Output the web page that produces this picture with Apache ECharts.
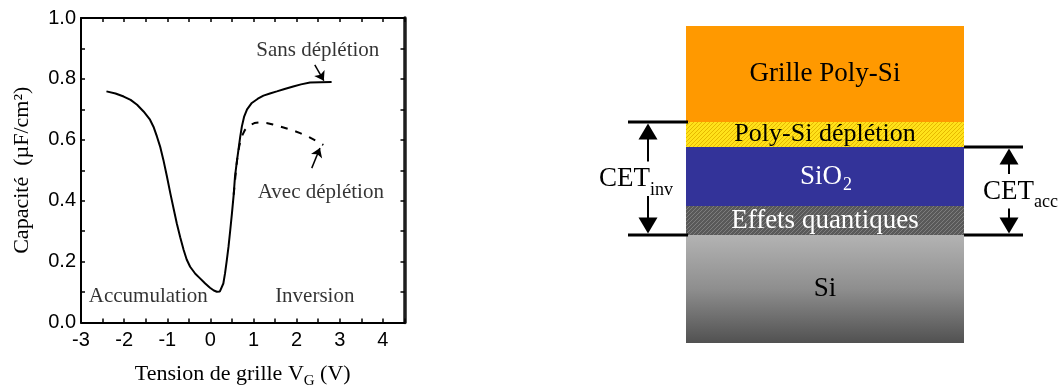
<!DOCTYPE html>
<html>
<head>
<meta charset="utf-8">
<script src="https://cdn.jsdelivr.net/npm/echarts@6/dist/echarts.min.js"></script>
<style>
  html, body { margin: 0; padding: 0; background: #fff; }
  #c { width: 1061px; height: 388px; }
</style>
</head>
<body>
<div id="c"></div>
<script>
// ---- C-V characteristic: gate voltage (V) vs capacitance (µF/cm²) ----
const sansDepletion = [
  [-2.41, 0.759], [-2.20, 0.752], [-2.01, 0.742], [-1.85, 0.731], [-1.70, 0.715],
  [-1.55, 0.693], [-1.40, 0.666], [-1.32, 0.643], [-1.24, 0.611], [-1.16, 0.575],
  [-1.09, 0.534], [-1.01, 0.481], [-0.93, 0.425], [-0.85, 0.372], [-0.78, 0.326],
  [-0.70, 0.280], [-0.62, 0.238], [-0.55, 0.207], [-0.47, 0.183], [-0.35, 0.160],
  [-0.24, 0.145], [-0.12, 0.128], [-0.01, 0.114], [0.08, 0.105], [0.15, 0.101],
  [0.22, 0.102], [0.26, 0.107], [0.30, 0.128], [0.34, 0.162], [0.38, 0.204],
  [0.42, 0.249], [0.46, 0.303], [0.50, 0.359], [0.54, 0.420], [0.57, 0.479],
  [0.61, 0.525], [0.65, 0.567], [0.69, 0.609], [0.73, 0.644], [0.78, 0.675],
  [0.85, 0.700], [0.96, 0.721], [1.10, 0.735], [1.23, 0.745], [1.38, 0.752],
  [1.54, 0.759], [1.72, 0.767], [1.92, 0.775], [2.10, 0.782], [2.31, 0.788],
  [2.55, 0.789], [2.81, 0.790]
];
const avecDepletion = [
  [0.54, 0.420], [0.58, 0.480], [0.62, 0.535], [0.67, 0.580], [0.73, 0.612],
  [0.80, 0.632], [0.90, 0.647], [1.02, 0.655], [1.15, 0.657], [1.30, 0.655],
  [1.45, 0.650], [1.61, 0.644], [1.85, 0.634], [2.08, 0.622], [2.30, 0.608],
  [2.45, 0.597], [2.62, 0.583]
];
const voltageTicks = [-3, -2, -1, 0, 1, 2, 3, 4];
const capacityTicks = ['0.0', '0.2', '0.4', '0.6', '0.8', '1.0'];
const annotationTexts = ['Sans déplétion', 'Avec déplétion', 'Accumulation', 'Inversion'];

// ---- gate stack, listed from the substrate upwards (relative thickness) ----
const layerNames = ['Si', 'Effets quantiques', 'SiO', 'Poly-Si déplétion', 'Grille Poly-Si'];
const layerSubscripts = ['', '', '2', '', ''];
const layerThickness = [108, 29, 59, 25, 96];
// equivalent thickness brackets: lowest and highest layer covered
const cetNames = ['inv', 'acc'];
const cetBottomLayer = [1, 1];
const cetTopLayer = [3, 2];

// cumulative base of each layer
const layerBase = [];
layerThickness.reduce((acc, t, i) => { layerBase[i] = acc; return acc + t; }, 0);
const stackTotal = layerThickness.reduce((a, b) => a + b, 0);

const SERIF = '"Liberation Serif", "Times New Roman", serif';
const SANS = '"Liberation Sans", Arial, sans-serif';

function hatch(bg, fg) {
  const c = document.createElement('canvas');
  c.width = 4; c.height = 4;
  const g = c.getContext('2d');
  g.fillStyle = bg; g.fillRect(0, 0, 4, 4);
  g.fillStyle = fg;
  for (let k = 0; k < 4; k++) g.fillRect(k, 3 - k, 1, 1);
  return { image: c, repeat: 'repeat' };
}

const layerLook = [
  { fill: new echarts.graphic.LinearGradient(0, 0, 0, 1, [
      { offset: 0, color: '#b3b3b3' }, { offset: 0.5, color: '#8e8e8e' }, { offset: 1, color: '#515151' }
    ]), ink: '#000', size: 27 },
  { fill: hatch('#595959', '#7d7d7d'), ink: '#fff', size: 27 },
  { fill: '#333399', ink: '#fff', size: 27 },
  { fill: hatch('#ffe21a', '#e6b800'), ink: '#000', size: 26 },
  { fill: '#ff9900', ink: '#000', size: 27 }
];

const annotationPos = [[2.49, 0.892], [2.56, 0.426], [-1.44, 0.085], [2.42, 0.085]];

const frameAxis = (width, color) => ({
  show: true, onZero: false, lineStyle: { color: color, width: width }
});
const innerTick = { show: true, inside: true, length: 4, lineStyle: { color: '#000', width: 1.5 } };

const chart = echarts.init(document.getElementById('c'));
chart.setOption({
  animation: false,
  backgroundColor: '#fff',
  grid: [
    { left: 81, right: 656.5, top: 18, bottom: 65.5, containLabel: false, outerBoundsMode: 'none' },
    { left: 686, width: 278, top: 26, height: 317, containLabel: false, outerBoundsMode: 'none' }
  ],
  xAxis: [
    {
      gridIndex: 0, type: 'value', position: 'bottom', min: -3, max: 4.5, interval: 0.5,
      axisLine: frameAxis(2, '#000'), axisTick: innerTick, splitLine: { show: false },
      axisLabel: {
        margin: 8, color: '#000', fontFamily: SANS, fontSize: 20,
        formatter: v => {
          const t = voltageTicks.find(t => Math.abs(t - v) < 1e-6);
          return t === undefined ? '' : String(t);
        }
      },
      name: '{m|Tension de grille V}{s|G}{m| (V)}',
      nameLocation: 'middle', nameGap: 41,
      nameTextStyle: {
        color: '#000',
        rich: {
          m: { fontFamily: SERIF, fontSize: 22, lineHeight: 22, verticalAlign: 'top', color: '#000' },
          s: { fontFamily: SERIF, fontSize: 15, lineHeight: 15, verticalAlign: 'top', padding: [10, 0, 0, 0], color: '#000' }
        }
      }
    },
    {
      gridIndex: 0, type: 'value', position: 'top', min: -3, max: 4.5, interval: 0.5,
      axisLine: frameAxis(2, '#000'), axisTick: innerTick,
      axisLabel: { show: false }, splitLine: { show: false }
    },
    { gridIndex: 1, type: 'value', min: 0, max: 1, show: false }
  ],
  yAxis: [
    {
      gridIndex: 0, type: 'value', position: 'left', min: 0, max: 1, interval: 0.1,
      axisLine: frameAxis(2, '#000'), axisTick: innerTick, splitLine: { show: false },
      axisLabel: {
        margin: 5, color: '#000', fontFamily: SANS, fontSize: 20,
        formatter: v => {
          const s = v.toFixed(1);
          return capacityTicks.includes(s) ? s : '';
        }
      },
      name: 'Capacité  (µF/cm²)', nameLocation: 'middle', nameGap: 48,
      nameTextStyle: { color: '#000', fontFamily: SERIF, fontSize: 22, lineHeight: 22 }
    },
    {
      gridIndex: 0, type: 'value', position: 'right', min: 0, max: 1, interval: 0.1,
      axisLine: frameAxis(3.5, '#1e1e1e'), axisTick: innerTick,
      axisLabel: { show: false }, splitLine: { show: false }
    },
    { gridIndex: 1, type: 'value', min: 0, max: stackTotal, show: false }
  ],
  series: [
    {
      name: 'Sans déplétion', type: 'line', xAxisIndex: 0, yAxisIndex: 0,
      data: sansDepletion, showSymbol: false, symbol: 'none',
      lineStyle: { color: '#000', width: 2 }
    },
    {
      name: 'Avec déplétion', type: 'line', xAxisIndex: 0, yAxisIndex: 0,
      data: avecDepletion, showSymbol: false, symbol: 'none',
      lineStyle: { color: '#000', width: 2, type: [7, 8] }
    },
    {
      name: 'annotations', type: 'scatter', xAxisIndex: 0, yAxisIndex: 0,
      symbolSize: 1, itemStyle: { color: 'rgba(0,0,0,0)' },
      data: annotationTexts.map((t, i) => ({ name: t, value: annotationPos[i] })),
      label: {
        show: true, position: 'inside', formatter: '{b}',
        color: '#000', fontFamily: SERIF, fontSize: 21
      },
      markLine: {
        silent: true, symbol: ['none', 'arrow'], symbolSize: 9,
        label: { show: false },
        lineStyle: { color: '#000', width: 1.5, type: 'solid' },
        data: [
          [{ coord: [2.42, 0.846] }, { coord: [2.63, 0.794] }],
          [{ coord: [2.35, 0.507] }, { coord: [2.54, 0.573] }]
        ]
      }
    },
    {
      name: 'couches', type: 'custom', xAxisIndex: 2, yAxisIndex: 2, clip: false,
      data: layerThickness.map((t, i) => [i, t]),
      renderItem: function (params, api) {
        const i = params.dataIndex;
        const y0 = layerBase[i], y1 = y0 + layerThickness[i];
        const tl = api.coord([0, y1]), br = api.coord([1, y0]);
        const rect = { x: tl[0], y: tl[1], width: br[0] - tl[0], height: br[1] - tl[1] };
        const cx = rect.x + rect.width / 2, cy = rect.y + rect.height / 2;
        const look = layerLook[i];
        const font = look.size + 'px ' + SERIF;
        const children = [{ type: 'rect', shape: rect, style: { fill: look.fill } }];
        if (layerSubscripts[i]) {
          children.push({ type: 'text', x: cx + 17, y: cy,
            style: { text: layerNames[i], align: 'right', verticalAlign: 'middle', fill: look.ink, font: font } });
          children.push({ type: 'text', x: cx + 18, y: cy + 9,
            style: { text: layerSubscripts[i], align: 'left', verticalAlign: 'middle', fill: look.ink, font: '18px ' + SERIF } });
        } else {
          children.push({ type: 'text', x: cx, y: cy,
            style: { text: layerNames[i], align: 'center', verticalAlign: 'middle', fill: look.ink, font: font } });
        }
        return { type: 'group', children: children };
      }
    },
    {
      name: 'CET', type: 'custom', xAxisIndex: 2, yAxisIndex: 2, clip: false,
      data: cetNames.map((n, i) => [i, layerBase[cetTopLayer[i]] + layerThickness[cetTopLayer[i]] - layerBase[cetBottomLayer[i]]]),
      renderItem: function (params, api) {
        const i = params.dataIndex;
        const left = i === 0;
        const yTop = api.coord([0, layerBase[cetTopLayer[i]] + layerThickness[cetTopLayer[i]]])[1];
        const yBot = api.coord([0, layerBase[cetBottomLayer[i]]])[1];
        const edge = api.coord([left ? 0 : 1, 0])[0];
        const xa = left ? edge - 58 : edge;
        const xb = left ? edge + 2 : edge + 59;
        const ax = left ? edge - 38 : edge + 45;
        const mid = (yTop + yBot) / 2;
        const gapTop = mid - 17, gapBot = mid + 17.5;
        const headH = 16, headW = 19;
        const black = { stroke: '#000', lineWidth: 3 };
        const shaft = { stroke: '#000', lineWidth: 2 };
        const textMid = mid + 0.5;
        const cetX = left ? edge - 36 : edge + 19;
        const subX = left ? edge - 36 : edge + 70;
        return {
          type: 'group',
          children: [
            { type: 'line', shape: { x1: xa, y1: yTop, x2: xb, y2: yTop }, style: black },
            { type: 'line', shape: { x1: xa, y1: yBot, x2: xb, y2: yBot }, style: black },
            { type: 'polygon', shape: { points: [[ax, yTop + 1.5], [ax - headW / 2, yTop + 1.5 + headH], [ax + headW / 2, yTop + 1.5 + headH]] }, style: { fill: '#000' } },
            { type: 'line', shape: { x1: ax, y1: yTop + headH, x2: ax, y2: gapTop }, style: shaft },
            { type: 'line', shape: { x1: ax, y1: gapBot, x2: ax, y2: yBot - headH }, style: shaft },
            { type: 'polygon', shape: { points: [[ax, yBot - 1.5], [ax - headW / 2, yBot - 1.5 - headH], [ax + headW / 2, yBot - 1.5 - headH]] }, style: { fill: '#000' } },
            { type: 'text', x: cetX, y: textMid,
              style: { text: 'CET', align: left ? 'right' : 'left', verticalAlign: 'middle', fill: '#000', font: '27px ' + SERIF } },
            { type: 'text', x: subX, y: textMid + 11,
              style: { text: cetNames[i], align: 'left', verticalAlign: 'middle', fill: '#000', font: '18px ' + SERIF } }
          ]
        };
      }
    }
  ]
});
</script>
</body>
</html>
